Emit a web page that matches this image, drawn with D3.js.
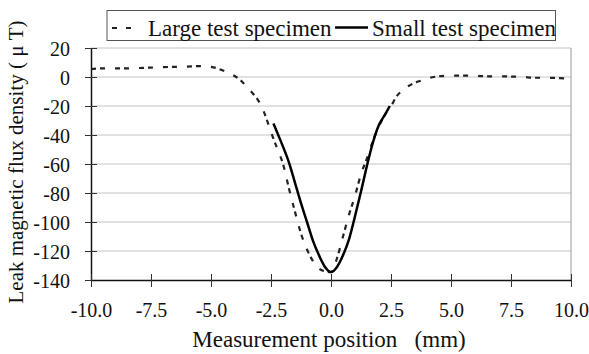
<!DOCTYPE html>
<html>
<head>
<meta charset="utf-8">
<script src="https://cdn.jsdelivr.net/npm/d3@7/dist/d3.min.js"></script>
<style>
  html, body { margin: 0; padding: 0; background: #fff; }
  svg { display: block; }
  text { font-family: "Liberation Serif", "Times New Roman", serif; fill: #111; }
</style>
</head>
<body>
<svg id="chart" width="589" height="354"></svg>
<script>
// ---- data ----
const seriesNames = ["Large test specimen", "Small test specimen"];

const largeX = [-10, -9.5, -9, -8.5, -8, -7.5, -7, -6.5, -6, -5.5, -5, -4.5,
  -4, -3.75, -3.5, -3.25, -3, -2.75, -2.5, -2.25, -2, -1.75, -1.5, -1.25, -1, -0.75, -0.5, -0.25,
  0, 0.25, 0.5, 0.75, 1, 1.25, 1.5, 1.75, 2, 2.25, 2.5, 2.75, 3, 3.25, 3.5, 3.75, 4,
  4.5, 5, 5.5, 6, 6.5, 7, 7.5, 8, 8.5, 9, 9.5, 10];
const largeY = [5.5, 6, 6, 6, 6.2, 6.5, 6.8, 7, 7.2, 7.5, 7, 4.5,
  0.5, -2.5, -7, -11.5, -17, -26, -38, -49, -60, -77, -93, -108, -119, -127, -132, -134,
  -134.5, -125, -110, -95, -82, -67, -56, -44, -34, -26, -20, -13, -9, -6, -4, -2.5, -1,
  0.5, 1, 1, 0.8, 0.5, 0.5, 0.3, 0, -0.5, -0.5, -0.8, -1];

const smallX = [-2.4, -2.25, -2, -1.75, -1.5, -1.25, -1, -0.75, -0.5, -0.25,
  0, 0.25, 0.5, 0.75, 1, 1.25, 1.5, 1.75, 2, 2.25, 2.45];
const smallY = [-32, -38, -48, -59, -73, -87, -100, -113, -123, -131,
  -134.5, -131, -123, -112, -96, -79, -61, -45, -33, -26, -20];

const xTicks = [-10, -7.5, -5, -2.5, 0, 2.5, 5, 7.5, 10];
const yTicks = [20, 0, -20, -40, -60, -80, -100, -120, -140];
const xTitle = "Measurement position\u00a0\u00a0\u00a0(mm)";
const yTitle = "Leak magnetic flux density ( \u03bc T)";

// ---- layout ----
const svg = d3.select("#chart");
const L = 91, R = 571, T = 48, B = 280;
const x = d3.scaleLinear().domain([-10, 10]).range([L, R]);
const y = d3.scaleLinear().domain([-140, 20]).range([B, T]);
const hyph = f => (d => f(d).replace("\u2212", "-"));

// gridlines
svg.append("g").selectAll("line").data(yTicks.filter(d => d !== -140)).join("line")
  .attr("x1", L).attr("x2", R)
  .attr("y1", d => y(d)).attr("y2", d => y(d))
  .attr("stroke", "#c4c4c4").attr("stroke-width", 1);
// right border
svg.append("line").attr("x1", R).attr("x2", R).attr("y1", T).attr("y2", B)
  .attr("stroke", "#9a9a9a").attr("stroke-width", 1);

// axes
const yAxis = svg.append("g").attr("transform", `translate(${L},0)`)
  .call(d3.axisLeft(y).tickValues(yTicks).tickSizeInner(6).tickSizeOuter(0).tickFormat(hyph(d3.format("d"))));
yAxis.attr("font-family", "Liberation Serif").attr("font-size", 20);
yAxis.selectAll(".tick line").attr("x2", 6).attr("x1", -6).attr("stroke", "#333");
yAxis.selectAll(".tick text").attr("x", -21).attr("dy", "0.35em")
  .style("font-size", "20px").style("font-family", "Liberation Serif");
yAxis.select(".domain").attr("stroke", "#111").attr("stroke-width", 1.5);

const xAxis = svg.append("g").attr("transform", `translate(0,${B})`)
  .call(d3.axisBottom(x).tickValues(xTicks).tickSizeInner(6).tickSizeOuter(0).tickFormat(hyph(d3.format(".1f"))));
xAxis.attr("font-family", "Liberation Serif").attr("font-size", 20);
xAxis.selectAll(".tick line").attr("y1", -6).attr("y2", 7).attr("stroke", "#333");
xAxis.selectAll(".tick text").attr("y", 23).attr("dy", "0.71em")
  .style("font-size", "20px").style("font-family", "Liberation Serif");
xAxis.select(".domain").attr("stroke", "#111").attr("stroke-width", 1.5);

// lines
const lineGen = d3.line().x(d => x(d[0])).y(d => y(d[1])).curve(d3.curveMonotoneX);
const largeData = largeX.map((v, i) => [v, largeY[i]]);
const smallData = smallX.map((v, i) => [v, smallY[i]]);

svg.append("path").datum(largeData).attr("d", lineGen)
  .attr("fill", "none").attr("stroke", "#222").attr("stroke-width", 2.2)
  .attr("stroke-dasharray", "5,4,5,10");
svg.append("path").datum(smallData).attr("d", lineGen)
  .attr("fill", "none").attr("stroke", "#000").attr("stroke-width", 2.5);

// axis titles
svg.append("text").attr("x", 329).attr("y", 347).attr("text-anchor", "middle")
  .style("font-size", "23px").text(xTitle);
svg.append("text").attr("transform", "translate(23,162) rotate(-90)")
  .attr("text-anchor", "middle").style("font-size", "21px").text(yTitle);

// legend
const lg = svg.append("g");
lg.append("rect").attr("x", 107).attr("y", 10.5).attr("width", 448.5).attr("height", 30)
  .attr("fill", "#fff").attr("stroke", "#555").attr("stroke-width", 1);
lg.append("line").attr("x1", 112).attr("x2", 134).attr("y1", 28).attr("y2", 28)
  .attr("stroke", "#222").attr("stroke-width", 2.2).attr("stroke-dasharray", "5,9");
lg.append("text").attr("x", 148).attr("y", 35.5).style("font-size", "23px").text(seriesNames[0]);
lg.append("line").attr("x1", 335).attr("x2", 368).attr("y1", 27.5).attr("y2", 27.5)
  .attr("stroke", "#000").attr("stroke-width", 2.5);
lg.append("text").attr("x", 372).attr("y", 35.5).style("font-size", "23px").text(seriesNames[1]);
</script>
</body>
</html>
